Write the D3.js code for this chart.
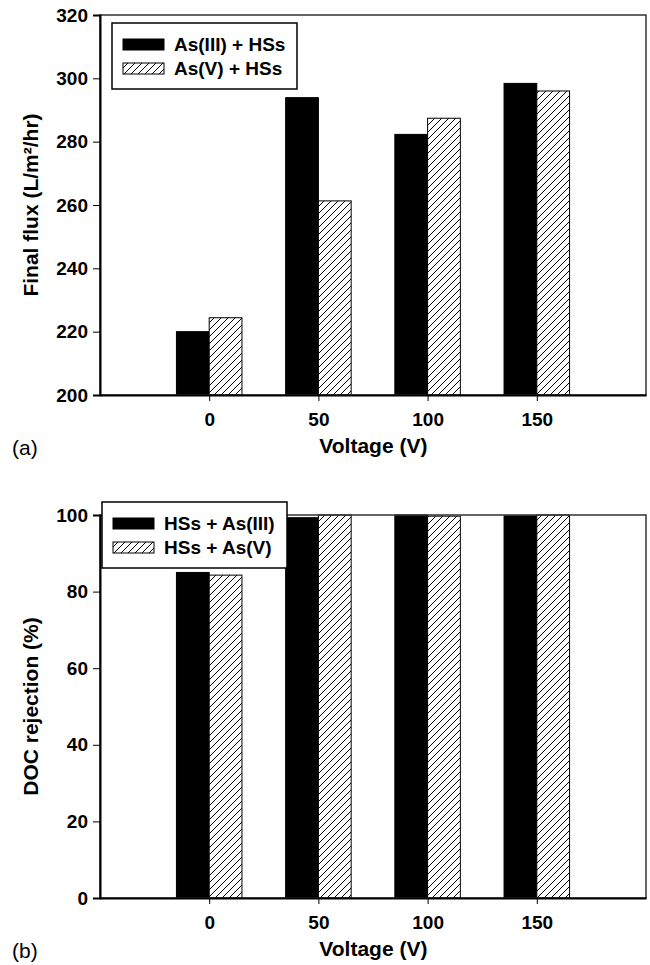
<!DOCTYPE html>
<html>
<head>
<meta charset="utf-8">
<script src="https://cdn.jsdelivr.net/npm/d3@7"></script>
<style>
  body { margin: 0; background: #fff; }
  text { font-family: "Liberation Sans", Arial, sans-serif; }
</style>
</head>
<body>
<script>
// data
var voltages = [0, 50, 100, 150];
var fluxAsIII = [220.0, 293.9, 282.3, 298.4];
var fluxAsV = [224.4, 261.3, 287.4, 296.0];
var docAsIII = [85.0, 99.3, 100, 99.8];
var docAsV = [84.3, 100, 99.7, 100];
var fluxTicks = [200, 220, 240, 260, 280, 300, 320];
var docTicks = [0, 20, 40, 60, 80, 100];

var width = 650, height = 965;

var svg = d3.select("body").append("svg")
            .attr("width", width)
            .attr("height", height);

var defs = svg.append("defs");
var hatch = defs.append("pattern")
                .attr("id", "hatch")
                .attr("patternUnits", "userSpaceOnUse")
                .attr("width", 7)
                .attr("height", 7);
hatch.append("rect").attr("width", 7).attr("height", 7).attr("fill", "#fff");
hatch.append("path")
     .attr("d", "M-2,2 L2,-2 M0,7 L7,0 M5,9 L9,5")
     .attr("stroke", "#000")
     .attr("stroke-width", 1);

var x = d3.scaleLinear().domain([-50, 200]).range([100, 646]);
var barW = x(15) - x(0);

function panel(o) {
    var y = d3.scaleLinear().domain(o.domain).range([o.bottom, o.top]);
    var g = svg.append("g");

    // bars
    var series = [{vals: o.s1, fill: "#000"}, {vals: o.s2, fill: "url(#hatch)"}];
    series.forEach(function(s, si) {
        g.selectAll(null)
         .data(voltages)
         .enter().append("rect")
         .attr("x", function(d) { return si == 0 ? x(d) - barW : x(d); })
         .attr("y", function(d, i) { return y(s.vals[i]); })
         .attr("width", barW)
         .attr("height", function(d, i) { return o.bottom - y(s.vals[i]); })
         .attr("fill", s.fill)
         .attr("stroke", "#000")
         .attr("stroke-width", 1);
    });

    // frame
    g.append("rect")
     .attr("x", x.range()[0]).attr("y", o.top)
     .attr("width", x.range()[1] - x.range()[0])
     .attr("height", o.bottom - o.top)
     .attr("fill", "none")
     .attr("stroke", "#333")
     .attr("stroke-width", 1.5);

    // y axis
    var ya = g.append("g")
              .attr("transform", "translate(" + x.range()[0] + ",0)")
              .call(d3.axisLeft(y).tickValues(o.ticks).tickSize(7).tickPadding(5));
    ya.select(".domain").attr("stroke-width", 2);
    ya.selectAll("text").attr("font-size", 19).attr("font-weight", "bold")
      .attr("font-family", "Liberation Sans, Arial, sans-serif");

    // x axis
    var xa = g.append("g")
              .attr("transform", "translate(0," + o.bottom + ")")
              .call(d3.axisBottom(x).tickValues(voltages).tickSize(6).tickPadding(12).tickSizeOuter(0));
    xa.select(".domain").attr("stroke-width", 2);
    xa.selectAll("text").attr("font-size", 19).attr("font-weight", "bold")
      .attr("font-family", "Liberation Sans, Arial, sans-serif");

    // axis titles
    g.append("text")
     .attr("transform", "translate(38," + (o.top + o.bottom) / 2 + ") rotate(-90)")
     .attr("text-anchor", "middle")
     .attr("font-size", 21).attr("font-weight", "bold")
     .text(o.ylabel);
    g.append("text")
     .attr("x", x(50) + 55)
     .attr("y", o.bottom + 58)
     .attr("text-anchor", "middle")
     .attr("font-size", 21).attr("font-weight", "bold")
     .text("Voltage (V)");
    g.append("text")
     .attr("x", 12).attr("y", o.bottom + 60)
     .attr("font-size", 21)
     .text(o.tag);

    // legend
    var lg = g.append("g").attr("transform", "translate(" + o.legX + "," + o.legY + ")");
    lg.append("rect")
      .attr("width", 185).attr("height", 66)
      .attr("fill", "#fff").attr("stroke", "#000").attr("stroke-width", 1.5);
    o.names.forEach(function(n, i) {
        lg.append("rect")
          .attr("x", 11).attr("y", 16 + i * 24)
          .attr("width", 41).attr("height", 11)
          .attr("fill", series[i].fill)
          .attr("stroke", "#000").attr("stroke-width", 1);
        lg.append("text")
          .attr("x", 62).attr("y", 28 + i * 24)
          .attr("font-size", 19).attr("font-weight", "bold")
          .text(n);
    });
}

panel({
    domain: [200, 320], top: 15, bottom: 395, ticks: fluxTicks,
    s1: fluxAsIII, s2: fluxAsV,
    ylabel: "Final flux (L/m\u00b2/hr)", tag: "(a)",
    names: ["As(III) + HSs", "As(V) + HSs"], legX: 112, legY: 23
});

panel({
    domain: [0, 100], top: 515, bottom: 898, ticks: docTicks,
    s1: docAsIII, s2: docAsV,
    ylabel: "DOC rejection (%)", tag: "(b)",
    names: ["HSs + As(III)", "HSs + As(V)"], legX: 102, legY: 502
});
</script>
</body>
</html>
